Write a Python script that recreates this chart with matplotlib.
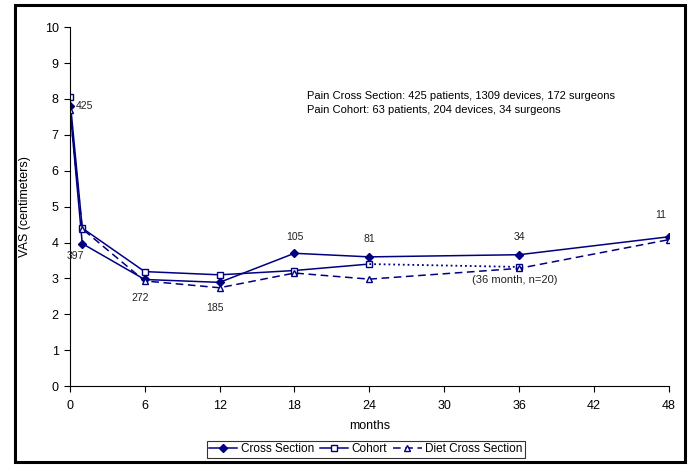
import matplotlib.pyplot as plt
from matplotlib.patches import Rectangle

plt.rcParams['font.family'] = ['Liberation Sans', 'DejaVu Sans']

# data
months = [0, 1, 6, 12, 18, 24, 36, 48]
cross_section = [7.8, 3.97, 2.97, 2.89, 3.70, 3.60, 3.66, 4.16]
cohort_months = [0, 1, 6, 12, 18, 24]
cohort = [8.05, 4.40, 3.19, 3.10, 3.22, 3.40]
cohort_36 = 3.32
diet_cross_section = [7.70, 4.38, 2.93, 2.74, 3.15, 2.98, 3.28, 4.08]
n_labels = ["425", "397", "272", "185", "105", "81", "34", "11"]
info_lines = ["Pain Cross Section: 425 patients, 1309 devices, 172 surgeons",
              "Pain Cohort: 63 patients, 204 devices, 34 surgeons"]

navy = "#000080"

fig = plt.figure(figsize=(6.91, 4.68), dpi=100)
ax = fig.add_axes([0.101, 0.175, 0.867, 0.767])

ax.plot(months, cross_section, "-", color=navy, lw=1.1, marker="D", ms=4,
        mfc=navy, mec=navy, label="Cross Section")
ax.plot(cohort_months, cohort, "-", color=navy, lw=1.1, marker="s", ms=5,
        mfc="white", mec=navy, label="Cohort")
# dotted extension of cohort to 36 months
ax.plot([cohort_months[-1], 36], [cohort[-1], cohort_36], ":", color=navy, lw=1.3)
ax.plot([36], [cohort_36], "s", ms=5, mfc="white", mec=navy)
ax.plot(months, diet_cross_section, "--", color=navy, lw=1.1, marker="^", ms=5,
        mfc="white", mec=navy, dashes=(5, 3), label="Diet Cross Section")

# n labels
offsets = [(4, 0, "left", "center"), (-5, -5, "center", "top"), (-3, -10, "center", "top"),
           (-3, -15, "center", "top"), (0, 8, "center", "bottom"), (0, 9, "center", "bottom"),
           (0, 9, "center", "bottom"), (-6, 12, "center", "bottom")]
for m, v, t, (dx, dy, ha, va) in zip(months, cross_section, n_labels, offsets):
    ax.annotate(t, (m, v), xytext=(dx, dy), textcoords="offset points",
                ha=ha, va=va, fontsize=7.5, color="#222222")
ax.annotate("(36 month, n=20)", (36, cohort_36), xytext=(-3, -6), textcoords="offset points",
            ha="center", va="top", fontsize=8, color="#222222")

ax.text(0.396, 0.755, info_lines[0] + "\n" + info_lines[1], transform=ax.transAxes,
        fontsize=8, va="bottom", ha="left", linespacing=1.45)

ax.set_xlim(0, 48)
ax.set_ylim(0, 10)
ax.set_xticks(range(0, 49, 6))
ax.set_yticks(range(0, 11))
ax.spines["top"].set_visible(False)
ax.spines["right"].set_visible(False)
ax.tick_params(direction="out", length=4, labelsize=9, pad=6)
ax.tick_params(axis="y", pad=4)
ax.set_xlabel("months", fontsize=9, labelpad=6)
ax.set_ylabel("VAS (centimeters)", fontsize=9, labelpad=10)

leg = ax.legend(loc="upper center", bbox_to_anchor=(0.494, -0.153), ncol=3, fontsize=8.5,
                frameon=True, fancybox=False, edgecolor="black", handlelength=2.4,
                handletextpad=0.3, columnspacing=0.5, borderpad=0.2, borderaxespad=0)
leg.get_frame().set_linewidth(0.8)

fig.patches.append(Rectangle((0.021, 0.013), 0.971, 0.976, transform=fig.transFigure,
                             fill=False, edgecolor="black", lw=2.2))

fig.savefig("out.png", dpi=100)
